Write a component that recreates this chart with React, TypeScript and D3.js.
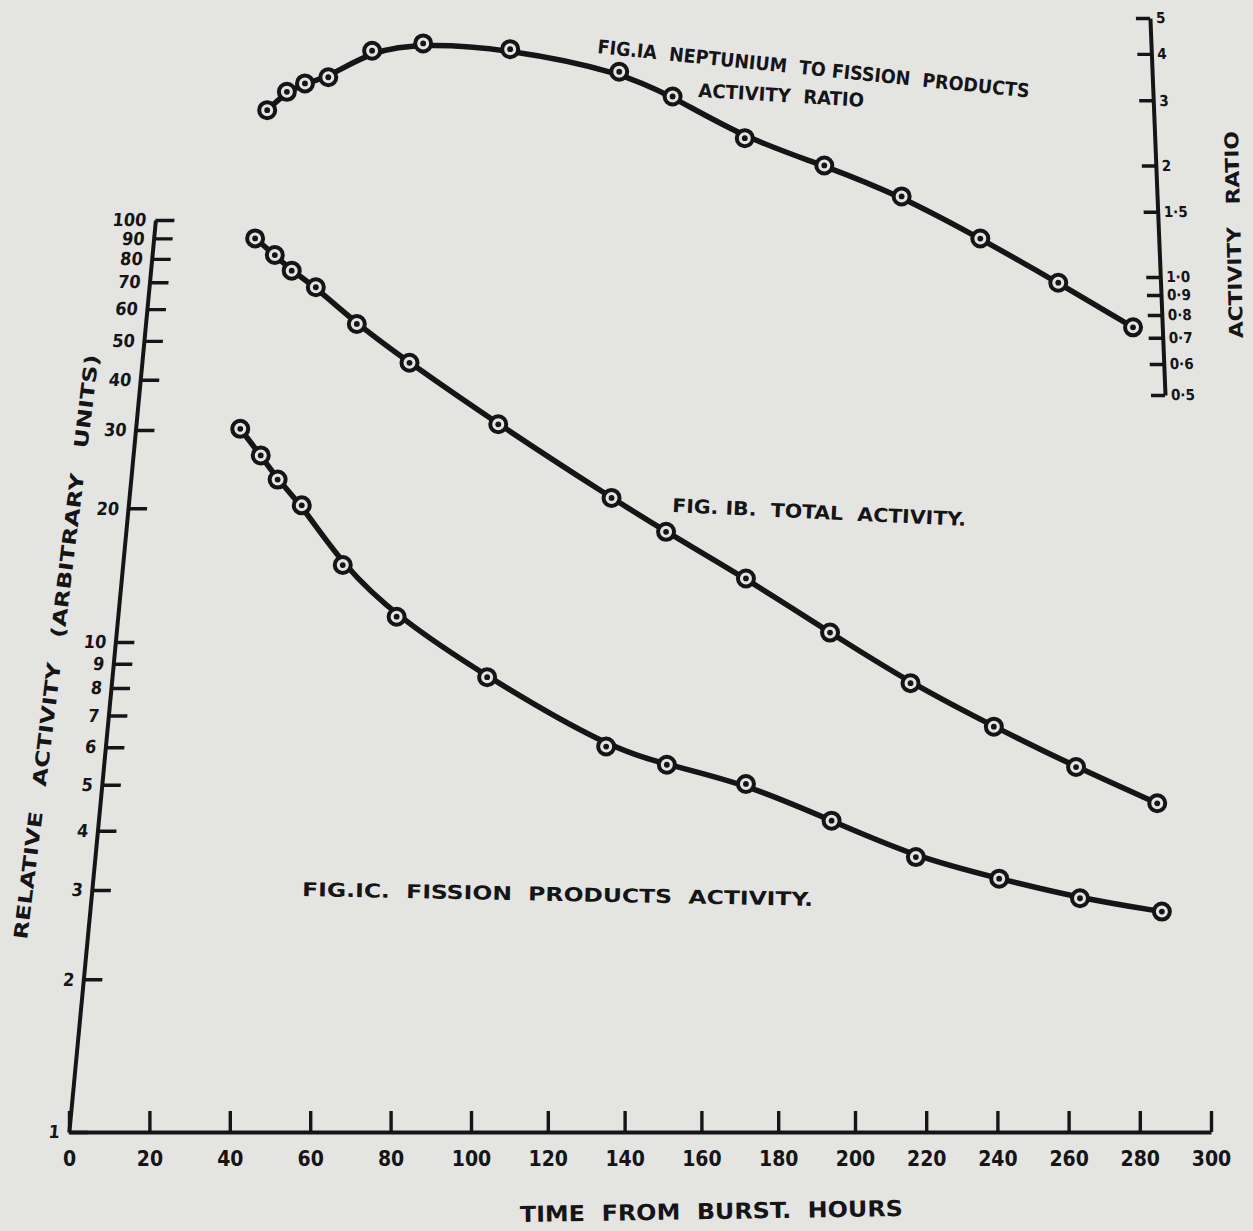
import React, { useEffect, useRef } from "react";
import * as d3 from "d3";

// hours after the burst (read straight down onto the time scale)
const ratioHours = [49.3, 54.2, 58.7, 64.5, 75.4, 88.1, 110.2, 138.6, 152.5, 171.3, 192, 213.1, 235.2, 257.1, 278.1];
// Fig 1A: neptunium / fission products activity ratio (right hand scale)
const ratioValues = [2.82, 3.16, 3.33, 3.46, 4.08, 4.27, 4.12, 3.58, 3.07, 2.37, 2.0, 1.65, 1.27, 0.967, 0.744];

const totalHours = [46.3, 51.2, 55.4, 61.4, 71.6, 84.7, 107.1, 136.6, 150.8, 171.6, 193.5, 215.6, 239.0, 262.1, 284.9];
// Fig 1B: total activity
const totalValues = [90, 81.8, 74.8, 68, 55.1, 44.1, 31, 21.1, 17.7, 13.9, 10.5, 8.19, 6.63, 5.45, 4.57];

const fissionHours = [42.6, 47.7, 51.9, 57.9, 68.1, 81.5, 104.2, 135.2, 151.0, 171.6, 193.9, 217.1, 240.5, 263.2, 286.2];
// Fig 1C: fission products activity
const fissionValues = [30.2, 26.3, 23.2, 20.3, 14.9, 11.4, 8.43, 6.02, 5.51, 5.02, 4.2, 3.52, 3.17, 2.89, 2.72];

const hourTicks = [0, 20, 40, 60, 80, 100, 120, 140, 160, 180, 200, 220, 240, 260, 280, 300];
const activityTicks = [1, 2, 3, 4, 5, 6, 7, 8, 9, 10, 20, 30, 40, 50, 60, 70, 80, 90, 100];
const ratioTicks = [0.5, 0.6, 0.7, 0.8, 0.9, 1, 1.5, 2, 3, 4, 5];

const INK = "#151515";
const PAPER = "#e4e4e2";
const FONT = "'DejaVu Sans Condensed', 'DejaVu Sans', sans-serif";

const App = () => {
  const width = 1253;
  const height = 1231;
  const xAxisRef = useRef<SVGGElement>(null);
  const yAxisRef = useRef<SVGGElement>(null);
  const rAxisRef = useRef<SVGGElement>(null);

  // the photographed sheet is in perspective, so the scales are calibrated
  // piecewise against the printed tick marks
  const x = d3.scaleLinear().domain([0, 100, 200, 300]).range([69, 471, 855, 1211]);
  const y = d3.scaleLog().domain([1, 3, 10, 30, 100]).range([1132, 890, 642, 430, 220]);
  const yRatio = d3.scaleLog().domain([0.5, 1, 5]).range([395, 277, 18]);

  useEffect(() => {
    const dress = (g: any, size: number) => {
      g.select(".domain").attr("stroke", INK).attr("stroke-width", 4);
      g.selectAll(".tick line").attr("stroke", INK).attr("stroke-width", 3.4);
      g.selectAll(".tick text")
        .attr("fill", INK)
        .attr("font-size", size)
        .attr("font-weight", "bold")
        .attr("font-family", FONT);
    };

    const gx = d3.select(xAxisRef.current);
    gx.call(
      d3.axisBottom(x).tickValues(hourTicks).tickSizeInner(-21).tickSizeOuter(0).tickPadding(19).tickFormat(d3.format("d"))
    );
    dress(gx, 21);

    const gy = d3.select(yAxisRef.current);
    gy.call(
      d3.axisLeft(y).tickValues(activityTicks).tickSizeInner(-19).tickSizeOuter(0).tickPadding(9).tickFormat(d3.format("d"))
    );
    dress(gy, 18);

    const fmtRatio = (v: number) => (v >= 2 ? String(v) : v.toFixed(1).replace(".", "\u00b7"));
    const gr = d3.select(rAxisRef.current);
    gr.call(d3.axisRight(yRatio).tickValues(ratioTicks).tickSizeInner(-14).tickSizeOuter(0).tickPadding(6).tickFormat(fmtRatio as any));
    dress(gr, 15);
  }, []);

  const series = [
    { key: "ratio", hours: ratioHours, values: ratioValues, scale: yRatio },
    { key: "total", hours: totalHours, values: totalValues, scale: y },
    { key: "fission", hours: fissionHours, values: fissionValues, scale: y },
  ];

  const label = (text: string, tx: number, ty: number, angle: number, len: number, size: number) => (
    <text
      transform={`translate(${tx},${ty}) rotate(${angle})`}
      textLength={len}
      lengthAdjust="spacingAndGlyphs"
      fontSize={size}
      fontWeight="bold"
      fontFamily={FONT}
      fill={INK}
      style={{ whiteSpace: "pre" }}
    >
      {text}
    </text>
  );

  return (
    <svg width={width} height={height} style={{ position: "absolute", left: 0, top: 0 }}>
      <rect width={width} height={height} fill={PAPER} />

      <g ref={xAxisRef} transform={`translate(0,${y(1)})`} />
      <g ref={yAxisRef} transform="translate(176.3,0) skewX(-5.42)" />
      <g ref={rAxisRef} transform="translate(1149.2,0) skewX(2.29)" />

      {series.map(s => {
        const line = d3
          .line<number>()
          .x((h) => x(h))
          .y((h, i) => s.scale(s.values[i]))
          .curve(d3.curveBasis);
        return (
          <path key={s.key} d={line(s.hours) || ""} fill="none" stroke={INK} strokeWidth={5.5} strokeLinecap="round" />
        );
      })}

      {series.map(s =>
        s.hours.map((h, i) => (
          <g key={s.key + i} transform={`translate(${x(h)},${s.scale(s.values[i])})`}>
            <circle r={8} fill={PAPER} stroke={INK} strokeWidth={4} />
            <circle r={2.9} fill={INK} />
          </g>
        ))
      )}

      {label("FIG.IA  NEPTUNIUM  TO FISSION  PRODUCTS", 597, 53, 5.9, 434, 19)}
      {label("ACTIVITY  RATIO", 698, 97, 3.4, 166, 19)}
      {label("FIG. IB.  TOTAL  ACTIVITY.", 672, 512, 2.7, 294, 19)}
      {label("FIG.IC.  FISSION  PRODUCTS  ACTIVITY.", 302, 896, 1.1, 511, 19)}
      {label("TIME  FROM  BURST.  HOURS", 520, 1222, -0.9, 383, 22)}
      {label("RELATIVE   ACTIVITY   (ARBITRARY   UNITS)", 27, 940, -83, 589, 19)}
      {label("ACTIVITY   RATIO", 1243, 338, -91.4, 207, 19)}
    </svg>
  );
};

export default App;
